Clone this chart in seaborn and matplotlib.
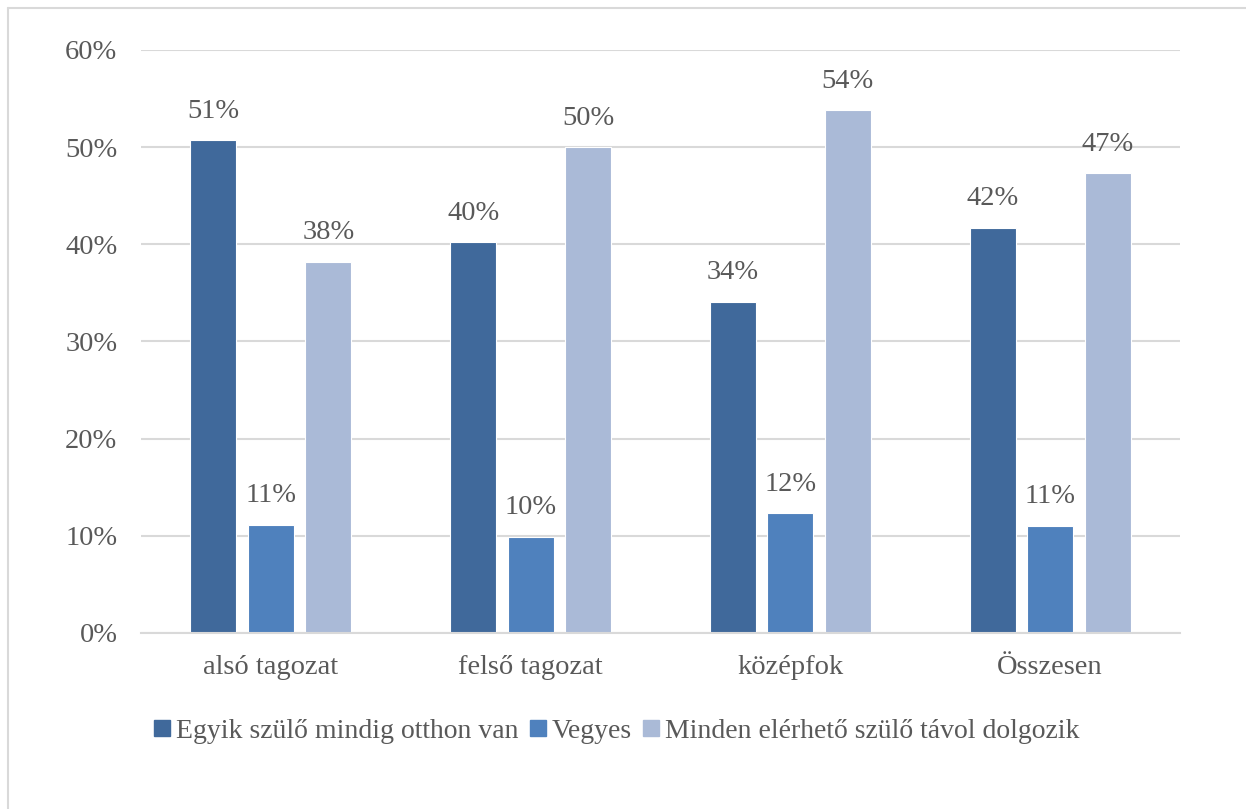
import pandas as pd
import numpy as np
import seaborn as sns
import matplotlib.pyplot as plt
from matplotlib.lines import Line2D

# data
categories = ['alsó tagozat', 'felső tagozat', 'középfok', 'Összesen']
series = ['Egyik szülő mindig otthon van', 'Vegyes', 'Minden elérhető szülő távol dolgozik']
egyik = [0.507, 0.402, 0.341, 0.417]
vegyes = [0.111, 0.099, 0.123, 0.110]
minden = [0.382, 0.500, 0.538, 0.473]
palette = ['#40699B', '#4F81BD', '#AABAD7']
txt = '#595959'

df = pd.DataFrame({
    'kat': categories * 3,
    'sor': [s for s in series for _ in categories],
    'ertek': egyik + vegyes + minden,
})

sns.set_theme(style='white')
plt.rcParams['font.family'] = ['Liberation Serif', 'DejaVu Serif']

fig = plt.figure(figsize=(12.46, 8.09), dpi=100)
ax = fig.add_axes([141/1246, 1-633/809, (1180-141)/1246, (633-50)/809])

sns.barplot(data=df, x='kat', y='ertek', hue='sor', palette=palette,
            width=0.664, gap=0.2, ax=ax, edgecolor='white', linewidth=0.8,
            saturation=1, legend=False)

for cont in ax.containers:
    ax.bar_label(cont, labels=[f'{v*100:.0f}%' for v in cont.datavalues],
                 padding=12, fontsize=20.5, color=txt)

ax.set_ylim(0, 0.6)
ax.set_xlim(-0.5, 3.5)
ax.set_yticks(np.arange(0, 0.61, 0.1))
ax.set_yticklabels([f'{int(round(t*100))}%' for t in np.arange(0, 0.61, 0.1)])
ax.yaxis.grid(True, color='#D9D9D9', linewidth=1.5)
ax.set_axisbelow(True)
for s in ['top', 'right', 'left']:
    ax.spines[s].set_visible(False)
ax.spines['bottom'].set_color('#D9D9D9')
ax.spines['bottom'].set_linewidth(1.5)
ax.tick_params(axis='y', length=0, pad=17, labelsize=20.5, labelcolor=txt)
ax.tick_params(axis='x', length=0, pad=16, labelsize=20.5, labelcolor=txt)
ax.set_xlabel('')
ax.set_ylabel('')

handles = [Line2D([0], [0], marker='s', linestyle='', markersize=11,
                  markerfacecolor=c, markeredgecolor=c) for c in palette]
leg = fig.legend(handles, series, loc='center', bbox_to_anchor=(0.495, 1-731/809),
                 ncol=3, frameon=False, fontsize=20, handlelength=0.6,
                 handletextpad=0.2, columnspacing=0.4, labelcolor=txt)

# chart area border (top and left visible)
fig.add_artist(Line2D([8/1246, 1.01], [1-8/809, 1-8/809], transform=fig.transFigure,
                      color='#D9D9D9', linewidth=1.5))
fig.add_artist(Line2D([8/1246, 8/1246], [-0.01, 1-8/809], transform=fig.transFigure,
                      color='#D9D9D9', linewidth=1.5))

fig.savefig('out.png', dpi=100, facecolor='white')
